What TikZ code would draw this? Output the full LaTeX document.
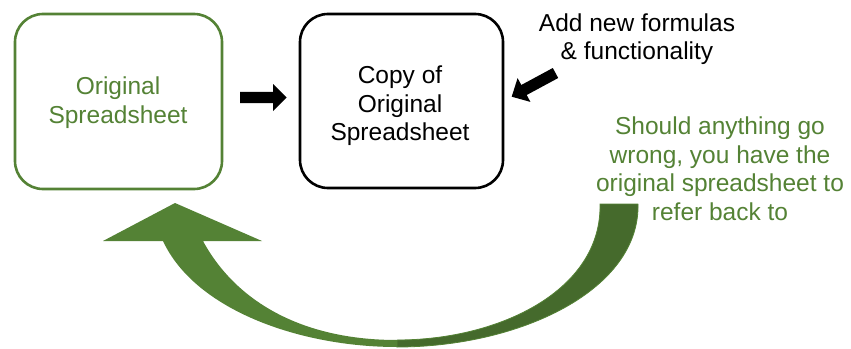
\documentclass[tikz,border=0pt]{standalone}
\usepackage{fontspec}
\setmainfont{Liberation Sans}
\definecolor{grn}{HTML}{548235}
\definecolor{dgrn}{HTML}{456A2C}
\tikzset{
  box/.style={rounded corners=28pt, line width=2.6pt},
  lbl/.style={align=center, inner sep=0pt, font=\fontsize{24.5}{28.5}\selectfont},
  blockarrow/.style={fill=black, draw=none},
}
\begin{document}
\begin{tikzpicture}[x=1pt,y=-1pt]
\useasboundingbox (0,0) rectangle (851,348);
% boxes
\draw[box, draw=grn] (15,14) rectangle (222,189);
\draw[box, draw=black] (300,14) rectangle (503,188);
\node[lbl, text=grn] (orig) at (118,102.5) {Original\\Spreadsheet};
\node[lbl] (copy) at (400,106) {Copy of\\Original\\Spreadsheet};
\node[lbl] (add) at (637,39.3) {Add new formulas\\\& functionality};
\node[lbl, text=grn] (note) at (720,168.5) {Should anything go\\wrong, you have the\\original spreadsheet to\\refer back to};
% straight block arrow
\fill[blockarrow] (240,91.8) -- (273,91.8) -- (273,84) -- (286.5,97.5) -- (273,111) -- (273,103.2) -- (240,103.2) -- cycle;
% diagonal block arrow
\fill[blockarrow] (511.7,96.7) -- (530.4,101.9) -- (526.7,95.0) -- (558.2,78.0) -- (552.8,68.0) -- (521.3,85.0) -- (517.6,78.1) -- cycle;
% curved arrow: back (dark) band
\filldraw[fill=dgrn, draw=grn, line width=0.8pt, line join=round]
  (600,204) -- (638,204) .. controls (640,290) and (520,347) .. (397,347)
  -- (397,340) .. controls (500,340) and (602,290) .. (600,204) -- cycle;
% front (light) band with head
\fill[grn]
  (397,347) .. controls (300,347) and (195,310) .. (163,241)
  -- (103,241) -- (175,203) -- (262,241) -- (203,241)
  .. controls (235,300) and (300,340) .. (397,340) -- cycle;
\end{tikzpicture}
\end{document}
